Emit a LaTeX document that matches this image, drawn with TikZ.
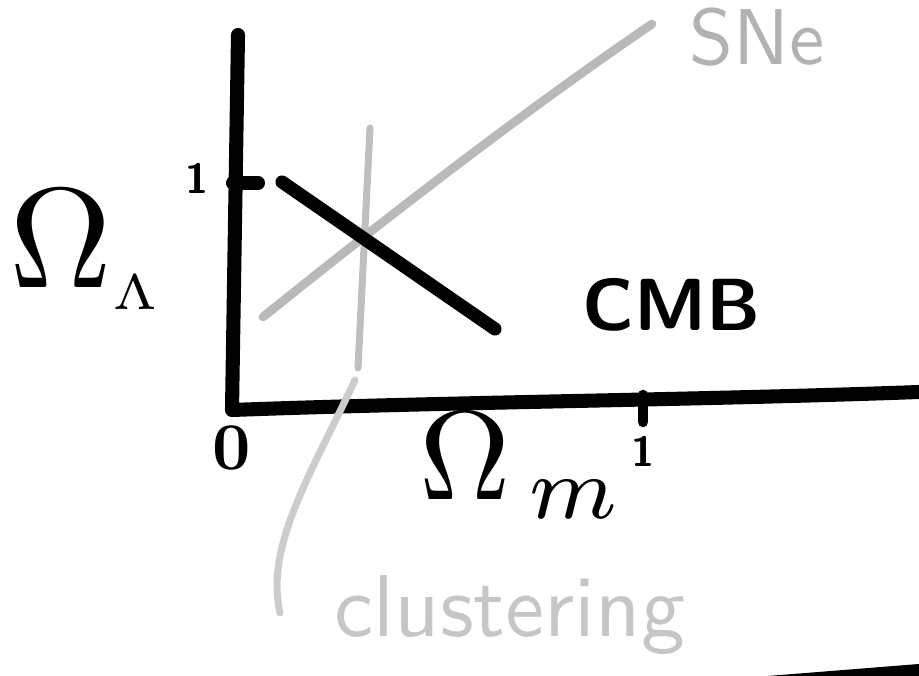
\documentclass[tikz,border=0pt]{standalone}

\begin{document}
\begin{tikzpicture}[scale=2,
  axisline/.style={line width=8pt, line cap=round, line join=round},
  inkline/.style={line width=7.5pt, line cap=round},
  snline/.style={gray!55, line width=5pt, line cap=round},
  clusline/.style={gray!50, line width=4pt, line cap=round}]
  \useasboundingbox (0,0) rectangle (9.19,6.76);

      \coordinate (YT) at (2.38, 6.41);
  \coordinate (O) at (2.32, 2.66);
  \coordinate (XE) at (9.19, 2.84);
  \coordinate (YtA) at (2.33, 4.93);
  \coordinate (YtB) at (2.58, 4.93);
  \coordinate (XtA) at (6.43, 2.81);
  \coordinate (XtB) at (6.43, 2.54);

  \draw[axisline] (YT) -- (O) .. controls (4.50, 2.74) and (7.00, 2.76) .. (XE);
  \draw[axisline] (YtA) -- (YtB);
  \draw[line width=6pt, line cap=round] (XtA) -- (XtB);

  \node[scale=3.8, font=\bfseries] (zero) at (2.32, 2.28) {0};
  \node[scale=2.4, font=\sffamily\bfseries] (oneY) at (1.97, 4.98) {1};
  \node[scale=2.4, font=\sffamily\bfseries] (oneX) at (6.43, 2.25) {1};
  \node[scale=8.1, anchor=base west, inner sep=0pt] (OmL) at (0.07, 3.88) {$\Omega_{\scalebox{0.7}{$\scriptscriptstyle\Lambda$}}$};
  \node[scale=7.2, anchor=base west, inner sep=0pt] (OmM) at (4.17, 1.76) {$\Omega_{\,m}$};

      \coordinate (CA) at (2.82, 4.94);
  \coordinate (CB) at (4.95, 3.47);
  \coordinate (SA) at (2.63, 3.59);
  \coordinate (SB) at (6.52, 6.52);
  \coordinate (KA) at (3.70, 5.48);
  \coordinate (KB) at (3.58, 3.08);
  \coordinate (KC) at (3.55, 2.96);
  \coordinate (KD) at (2.80, 0.63);

  \draw[snline] (SA) .. controls (3.70, 4.45) and (5.10, 5.55) .. (SB);
  \draw[clusline] (KA) -- (KB);
  \draw[clusline, gray!40] (KC) .. controls (3.10, 2.00) and (2.65, 1.30) .. (KD);
  \draw[inkline] (CA) -- (CB);

  \node[scale=4.5, font=\sffamily, text=gray!60] (sne) at (7.57, 6.39) {SNe};
  \node[scale=4.2, font=\sffamily\bfseries] (cmb) at (6.72, 3.71) {CMB};
  \node[scale=5, font=\sffamily, text=gray!45] (clus) at (5.10, 0.61) {clustering};

  % edge of the scan
  \fill[black] (7.68, 0.00) -- (9.19, 0.12) -- (9.19, 0.00) -- cycle;
\end{tikzpicture}
\end{document}
